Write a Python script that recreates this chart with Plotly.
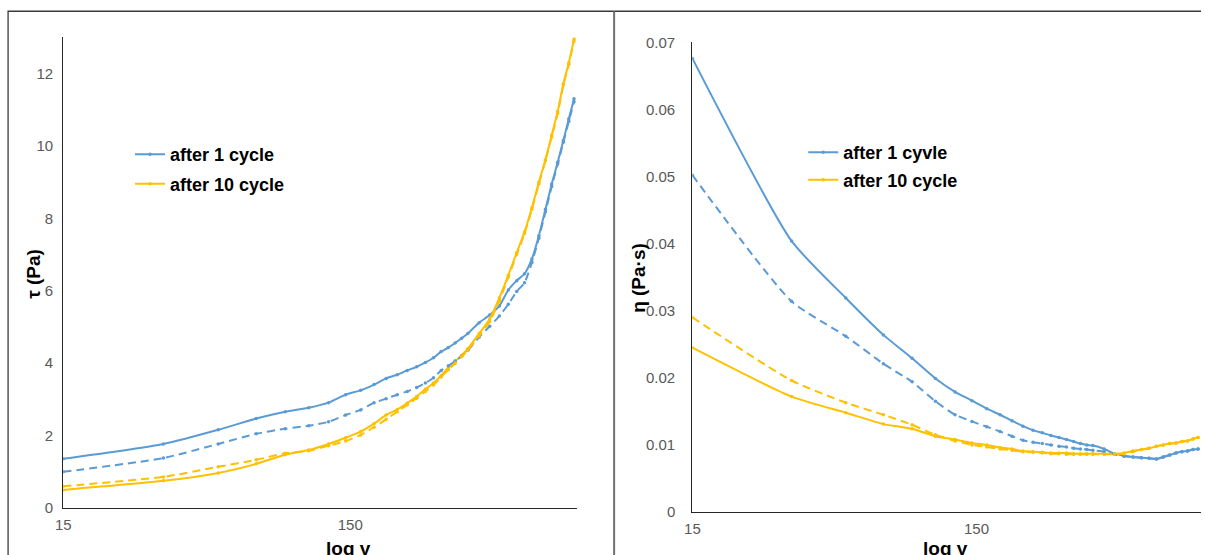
import plotly.graph_objects as go

# Shear rate (1/s)
shear_rate = [15, 33.5, 52, 70.5, 89, 107.5, 126, 144.5, 163, 181.5, 200,
              218.5, 237, 255.5, 274, 292.5, 311, 329.5, 348, 366.5, 385,
              422, 459, 496, 533, 570, 607, 644, 681, 718, 755, 792, 829,
              866, 903]

# Shear stress tau (Pa)
tau_1_up = [1.36, 1.77, 2.16, 2.47, 2.66, 2.77, 2.91, 3.13, 3.25, 3.41, 3.58,
            3.68, 3.80, 3.90, 4.02, 4.15, 4.32, 4.43, 4.56, 4.69, 4.82,
            5.12, 5.33, 5.58, 6.02, 6.28, 6.47, 6.88, 7.52, 8.25, 8.95, 9.55,
            10.15, 10.75, 11.3]
tau_1_down = [1.00, 1.38, 1.77, 2.05, 2.19, 2.27, 2.38, 2.57, 2.71, 2.91, 3.02,
              3.13, 3.22, 3.33, 3.45, 3.60, 3.80, 3.93, 4.06, 4.19, 4.35,
              4.72, 5.02, 5.30, 5.63, 5.98, 6.22, 6.78, 7.45, 8.18, 8.88, 9.5,
              10.1, 10.68, 11.22]
tau_10_up = [0.50, 0.75, 0.97, 1.22, 1.47, 1.60, 1.77, 1.94, 2.11, 2.33, 2.57,
             2.72, 2.90, 3.08, 3.28, 3.45, 3.66, 3.88, 4.05, 4.22, 4.40,
             4.82, 5.22, 5.80, 6.43, 7.05, 7.62, 8.29, 9.0, 9.62, 10.3, 10.95,
             11.72, 12.3, 12.95]
tau_10_down = [0.60, 0.86, 1.14, 1.33, 1.51, 1.58, 1.72, 1.85, 2.02, 2.23, 2.45,
               2.66, 2.85, 3.03, 3.22, 3.40, 3.62, 3.82, 4.0, 4.18, 4.36,
               4.76, 5.15, 5.72, 6.38, 7.0, 7.58, 8.25, 8.95, 9.6, 10.25, 10.9,
               11.68, 12.25, 12.9]

# Viscosity eta (Pa·s)
eta_1_up = [0.0676, 0.0404, 0.0319, 0.0264, 0.0229, 0.0199, 0.0179, 0.0166,
            0.0154, 0.0145, 0.0136, 0.0128, 0.0122, 0.0118, 0.0114, 0.0111,
            0.0108, 0.0105, 0.0102, 0.0100, 0.0099, 0.0094, 0.0087, 0.0084,
            0.0082, 0.0081, 0.0080, 0.0079, 0.0082, 0.0085, 0.0088, 0.0090,
            0.0091, 0.0093, 0.0094]
eta_1_down = [0.0502, 0.0314, 0.0262, 0.0221, 0.0194, 0.0165, 0.0145, 0.0135,
              0.0127, 0.0120, 0.0113, 0.0107, 0.0104, 0.0102, 0.0100, 0.0098,
              0.0097, 0.0095, 0.0094, 0.0093, 0.0092, 0.0090, 0.0086, 0.0083,
              0.0082, 0.0081, 0.0080, 0.0079, 0.0082, 0.0085, 0.0088, 0.0090,
              0.0091, 0.0093, 0.0094]
eta_10_up = [0.0245, 0.0172, 0.0148, 0.0131, 0.0124, 0.0113, 0.0108, 0.0103,
             0.0100, 0.0096, 0.0094, 0.0091, 0.0090, 0.0089, 0.0088, 0.0088,
             0.0088, 0.0087, 0.0087, 0.0087, 0.0087, 0.0087, 0.0087, 0.0088,
             0.0091, 0.0093, 0.0095, 0.0098, 0.0100, 0.0102, 0.0103, 0.0105,
             0.0106, 0.0109, 0.0111]
eta_10_down = [0.0290, 0.0196, 0.0163, 0.0145, 0.0130, 0.0115, 0.0106, 0.0100,
               0.0097, 0.0094, 0.0092, 0.0090, 0.0089, 0.0088, 0.0087, 0.0087,
               0.0086, 0.0086, 0.0086, 0.0086, 0.0086, 0.0086, 0.0086, 0.0087,
               0.0090, 0.0093, 0.0095, 0.0098, 0.0100, 0.0102, 0.0103, 0.0105,
               0.0106, 0.0109, 0.0111]

x_ticks = [15, 150]
tau_ticks = [0, 2, 4, 6, 8, 10, 12]
eta_ticks = [0, 0.01, 0.02, 0.03, 0.04, 0.05, 0.06, 0.07]
eta_tick_text = ["0", "0.01", "0.02", "0.03", "0.04", "0.05", "0.06", "0.07"]

BLUE = "#5B9BD5"
GOLD = "#FFC000"

# Layout positions below are written in screen pixels of the final view;
# they are converted to paper fractions of a figure that sits inside the
# page body's default 8px margin.
SX, SY = 0.99, 0.968
BODY_MARGIN = 8
W = round(1205 / SX) - 2 * BODY_MARGIN
H = round(555 / SY) - 2 * BODY_MARGIN


def px_x(p):
    return (p / SX - BODY_MARGIN) / W


def px_y(p):
    return 1 - (p / SY - BODY_MARGIN) / H


def dom(a, b):
    return [max(0.0, min(1.0, a)), max(0.0, min(1.0, b))]


fig = go.Figure()


def add(y, color, dash, name, xa, ya, legend, group, show):
    fig.add_trace(go.Scatter(
        x=shear_rate, y=y, mode="lines+markers", name=name,
        line=dict(color=color, width=2, dash=dash, shape="spline", smoothing=0.6),
        marker=dict(color=color, size=3.5),
        xaxis=xa, yaxis=ya, legend=legend, legendgroup=group, showlegend=show,
    ))


add(tau_1_up, BLUE, "solid", "after 1 cycle", "x", "y", "legend", "a1", True)
add(tau_10_up, GOLD, "solid", "after 10 cycle", "x", "y", "legend", "a10", True)
add(tau_1_down, BLUE, "8px,5px", "after 1 cycle", "x", "y", "legend", "a1", False)
add(tau_10_down, GOLD, "8px,5px", "after 10 cycle", "x", "y", "legend", "a10", False)

add(eta_1_up, BLUE, "solid", "after 1 cyvle", "x2", "y2", "legend2", "b1", True)
add(eta_10_up, GOLD, "solid", "after 10 cycle", "x2", "y2", "legend2", "b10", True)
add(eta_1_down, BLUE, "8px,5px", "after 1 cyvle", "x2", "y2", "legend2", "b1", False)
add(eta_10_down, GOLD, "8px,5px", "after 10 cycle", "x2", "y2", "legend2", "b10", False)

FONT = "Liberation Sans, Arial, sans-serif"
tick_font = dict(family=FONT, size=15, color="#595959")
x_min_log, x_max_log = 1.1761, 2.966

common_x = dict(type="log", tickvals=x_ticks, ticktext=[str(v) for v in x_ticks],
                showgrid=False, zeroline=False, showline=True, linecolor="#262626",
                linewidth=1.3, ticks="", ticklen=0, tickfont=tick_font,
                ticklabelstandoff=3)
common_y = dict(showgrid=False, zeroline=False, showline=True, linecolor="#262626",
                linewidth=1.3, ticks="", ticklen=0, tickfont=tick_font,
                ticklabelstandoff=6)
legend_font = dict(family=FONT, size=18, color="#000000", weight="bold")

fig.update_layout(
    width=W, height=H,
    margin=dict(l=0, r=0, t=0, b=0),
    paper_bgcolor="white", plot_bgcolor="white",
    font=dict(family=FONT),
    xaxis=dict(common_x, domain=dom(px_x(63), px_x(575)),
               range=[x_min_log, x_max_log], anchor="y"),
    yaxis=dict(common_y, domain=dom(px_y(506), px_y(36)), range=[0, 13],
               tickvals=tau_ticks, anchor="x"),
    xaxis2=dict(common_x, domain=dom(px_x(690), px_x(1197)),
                range=[x_min_log, x_max_log], anchor="y2"),
    yaxis2=dict(common_y, domain=dom(px_y(510), px_y(41)), range=[0, 0.07],
                tickvals=eta_ticks, ticktext=eta_tick_text, anchor="x2",
                ticklabelstandoff=13),
    legend=dict(x=px_x(129.5), y=px_y(134.7), xanchor="left", yanchor="top",
                bgcolor="rgba(0,0,0,0)", traceorder="grouped", tracegroupgap=3,
                font=legend_font),
    legend2=dict(x=px_x(800.5), y=px_y(132.7), xanchor="left", yanchor="top",
                 bgcolor="rgba(0,0,0,0)", traceorder="grouped", tracegroupgap=1,
                 font=legend_font),
    shapes=[
        dict(type="rect", xref="paper", yref="paper",
             x0=px_x(8), x1=px_x(1203.5), y0=px_y(580), y1=px_y(10),
             line=dict(color="#3a3a3a", width=1.3)),
        dict(type="line", xref="paper", yref="paper",
             x0=px_x(612), x1=px_x(612), y0=px_y(580), y1=px_y(10),
             line=dict(color="#707070", width=2)),
    ],
)

title_font = dict(family=FONT, size=19, color="#000000", weight="bold")
annotations = [
    dict(text="τ (Pa)", x=px_x(33), y=px_y(272), textangle=-90),
    dict(text="η (Pa·s)", x=px_x(636), y=px_y(276), textangle=-90),
    dict(text="log γ", x=px_x(347), y=px_y(546)),
    dict(text="log γ", x=px_x(942), y=px_y(546)),
]
for a in annotations:
    fig.add_annotation(xref="paper", yref="paper", showarrow=False,
                       xanchor="center", yanchor="middle", font=title_font, **a)

fig.write_html("out.html")
